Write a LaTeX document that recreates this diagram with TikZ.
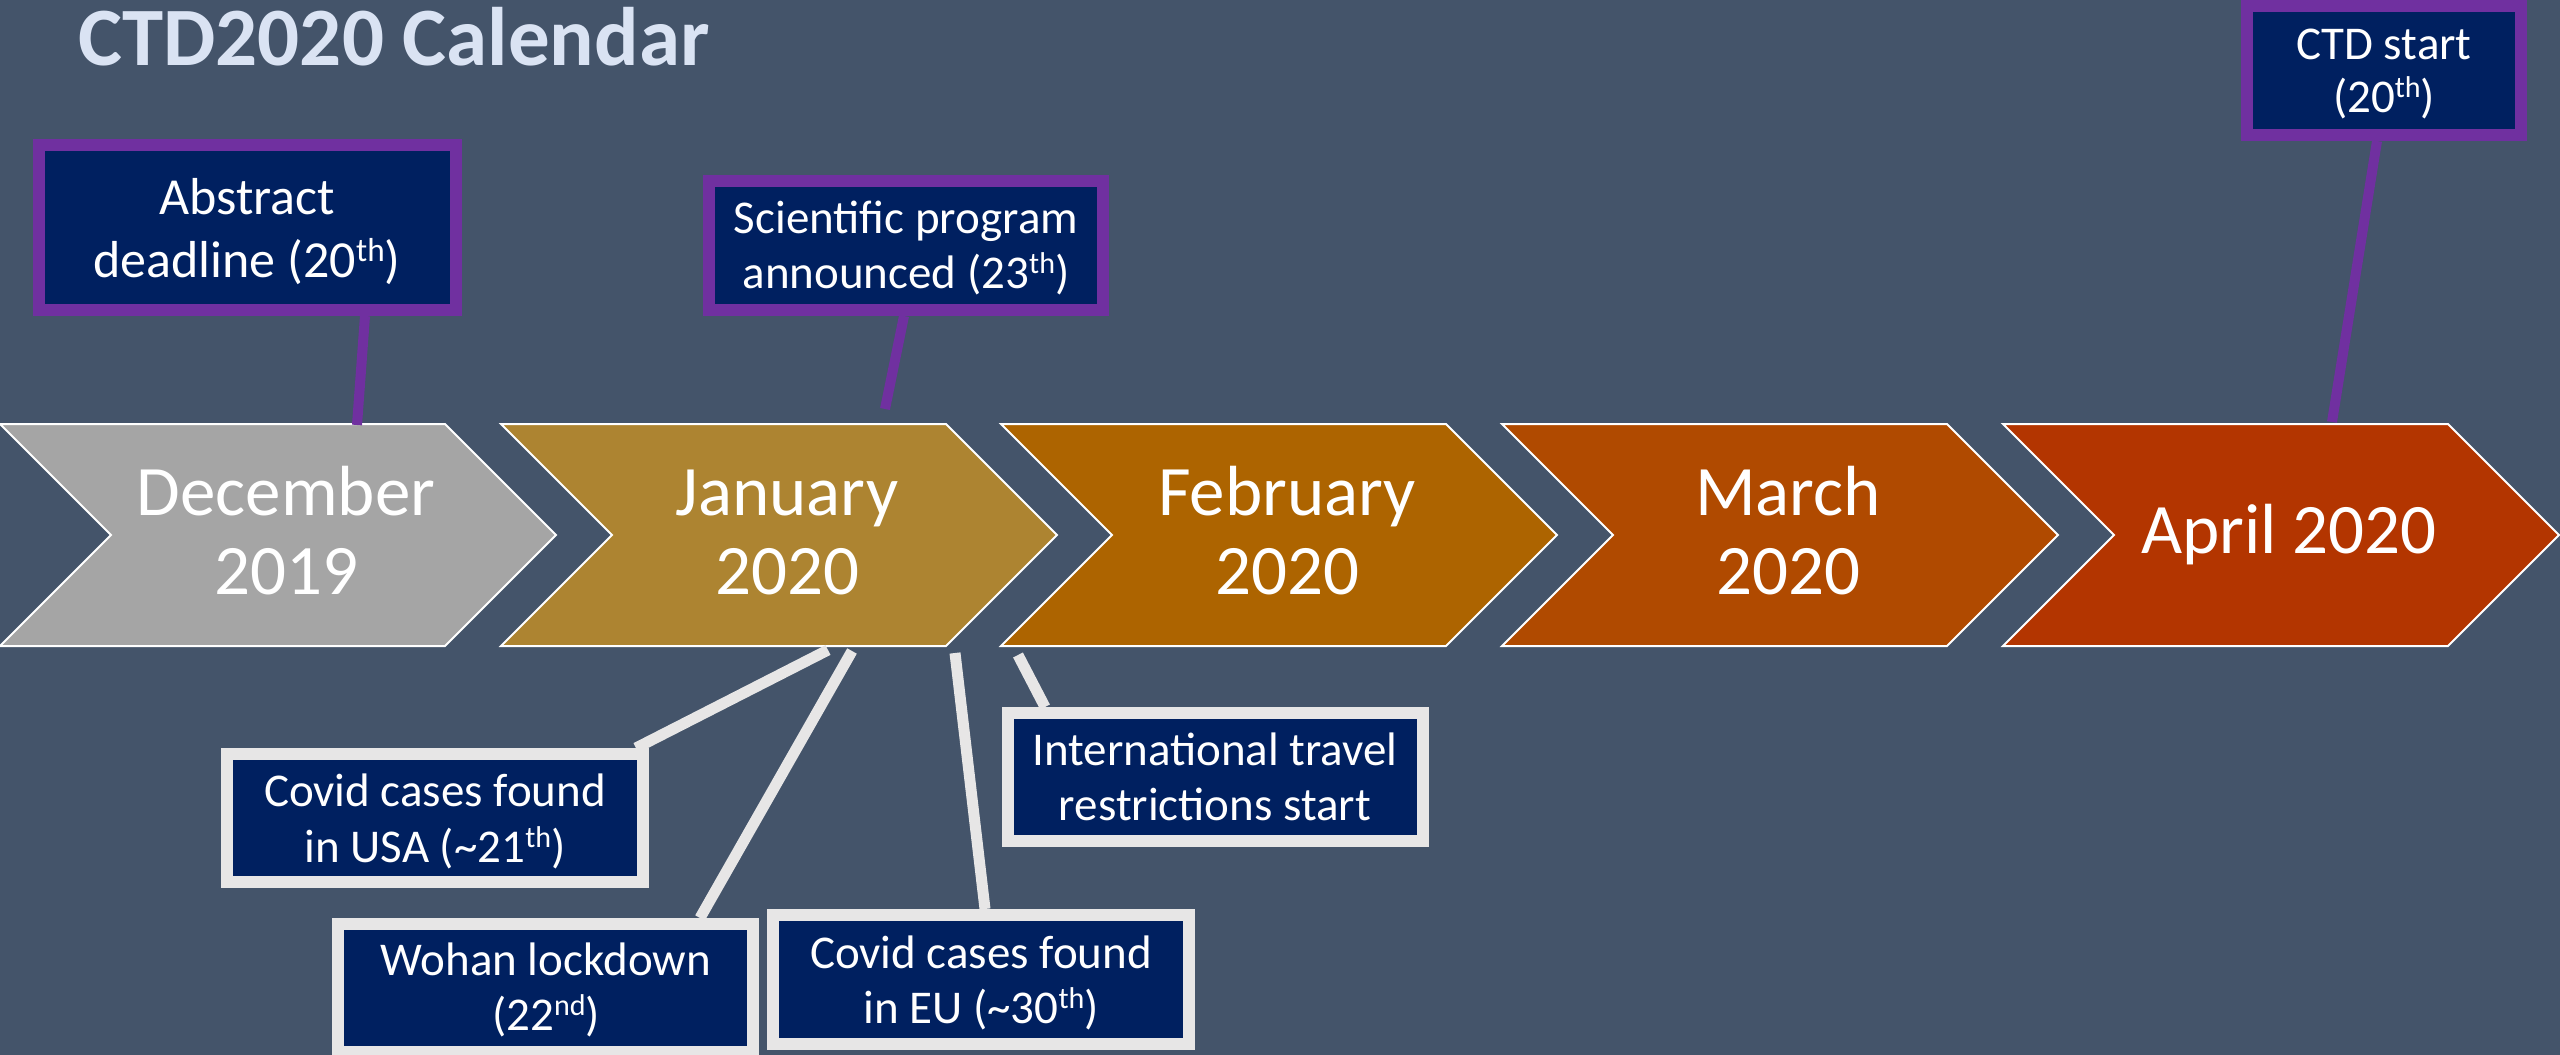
\documentclass[tikz,border=0pt]{standalone}
\usepackage{fontspec}
\setmainfont{Carlito}
\definecolor{bg}{HTML}{44546A}
\definecolor{navy}{HTML}{002060}
\definecolor{ppurple}{HTML}{7030A0}
\definecolor{lgray}{HTML}{E7E6E6}
\definecolor{ttl}{HTML}{DAE3F3}
\definecolor{cdec}{HTML}{A5A5A5}
\definecolor{cjan}{HTML}{AD8431}
\definecolor{cfeb}{HTML}{AD6400}
\definecolor{cmar}{HTML}{B04A00}
\definecolor{capr}{HTML}{B33500}
\newcommand{\supx}[1]{\raisebox{0.3em}{\scalebox{0.64}{#1}}}
\begin{document}
\begin{tikzpicture}[x=1pt,y=-1pt,
  chev/.style={draw=white, line width=2pt, line join=miter},
  month/.style={text=white, anchor=base, inner sep=0pt, font=\fontsize{71}{79}\selectfont},
  evbox/.style={rectangle, fill=navy, line width=12pt, inner sep=0pt},
  pbox/.style={evbox, draw=ppurple},
  gbox/.style={evbox, draw=lgray},
  btxt/.style={text=white, anchor=base, inner sep=0pt, font=\fontsize{47}{55}\selectfont},
  atxt/.style={btxt, font=\fontsize{52}{62}\selectfont},
  pline/.style={draw=ppurple, line width=10pt},
  gline/.style={draw=lgray, line width=11pt}]
\useasboundingbox (0,0) rectangle (2560,1055);
\fill[bg] (0,0) rectangle (2560,1055);

% title
\node[anchor=base west, inner sep=0pt, text=ttl, font=\fontsize{83}{90}\selectfont\bfseries] (title) at (78,65) {CTD2020 Calendar};

% chevrons
\path[chev, fill=cdec] (0,424) -- ++(445,0) -- ++(111,111) -- ++(-111,111) -- ++(-445,0) -- ++(111,-111) -- cycle;
\path[chev, fill=cjan] (501,424) -- ++(445,0) -- ++(111,111) -- ++(-111,111) -- ++(-445,0) -- ++(111,-111) -- cycle;
\path[chev, fill=cfeb] (1001,424) -- ++(445,0) -- ++(111,111) -- ++(-111,111) -- ++(-445,0) -- ++(111,-111) -- cycle;
\path[chev, fill=cmar] (1502,424) -- ++(445,0) -- ++(111,111) -- ++(-111,111) -- ++(-445,0) -- ++(111,-111) -- cycle;
\path[chev, fill=capr] (2003,424) -- ++(445,0) -- ++(111,111) -- ++(-111,111) -- ++(-445,0) -- ++(111,-111) -- cycle;

\node[month] (dec1) at (286,515) {December};
\node[month] (dec2) at (286,594) {2019};
\node[month] (jan1) at (787,515) {January};
\node[month] (jan2) at (787,594) {2020};
\node[month] (feb1) at (1287,515) {February};
\node[month] (feb2) at (1287,594) {2020};
\node[month] (mar1) at (1788,515) {March};
\node[month] (mar2) at (1788,594) {2020};
\node[month] (apr) at (2289,553) {April 2020};

% connector end points
\coordinate (absB) at (365,316);
\coordinate (absC) at (357,425);
\coordinate (sciB) at (904,316);
\coordinate (sciC) at (885,409);
\coordinate (ctdB) at (2377,141);
\coordinate (ctdC) at (2332,422);
\coordinate (usaT) at (636,748);
\coordinate (usaC) at (828,650);
\coordinate (wohT) at (700,918);
\coordinate (wohC) at (852,651);
\coordinate (euT) at (985,909);
\coordinate (euC) at (955,653);
\coordinate (trvT) at (1045,707);
\coordinate (trvC) at (1018,655);

% connectors
\draw[pline] (absB) -- (absC);
\draw[pline] (sciB) -- (sciC);
\draw[pline] (ctdB) -- (ctdC);
\draw[gline] (usaT) -- (usaC);
\draw[gline] (wohT) -- (wohC);
\draw[gline] (euT) -- (euC);
\draw[gline] (trvT) -- (trvC);

% top boxes
\node[pbox, minimum width=417pt, minimum height=165pt] (abs) at (247.5,227.5) {};
\node[atxt] (abs1) at (247,214) {Abstract};
\node[atxt] (abs2) at (247,277) {deadline (20\supx{th})};

\node[pbox, minimum width=394pt, minimum height=129pt] (sci) at (906,245.5) {};
\node[btxt] (sci1) at (906,233) {Scientific program};
\node[btxt] (sci2) at (906,288) {announced (23\supx{th})};

\node[pbox, minimum width=274pt, minimum height=129pt] (ctd) at (2384,70.5) {};
\node[btxt] (ctd1) at (2384,59) {CTD start};
\node[btxt] (ctd2) at (2384,112) {(20\supx{th})};

% bottom boxes
\node[gbox, minimum width=416pt, minimum height=128pt] (usa) at (435,818) {};
\node[btxt] (usa1) at (435,806) {Covid cases found};
\node[btxt] (usa2) at (435,862) {in USA (\textasciitilde 21\supx{th})};

\node[gbox, minimum width=415pt, minimum height=128pt] (woh) at (545.5,988) {};
\node[btxt] (woh1) at (546,975) {Wohan lockdown};
\node[btxt] (woh2) at (546,1030) {(22\supx{nd})};

\node[gbox, minimum width=416pt, minimum height=129pt] (eu) at (981,979.5) {};
\node[btxt] (eu1) at (981,968) {Covid cases found};
\node[btxt] (eu2) at (981,1023) {in EU (\textasciitilde 30\supx{th})};

\node[gbox, minimum width=415pt, minimum height=128pt] (trv) at (1215.5,777) {};
\node[btxt] (trv1) at (1215,765) {International travel};
\node[btxt] (trv2) at (1215,820) {restrictions start};
\end{tikzpicture}
\end{document}
